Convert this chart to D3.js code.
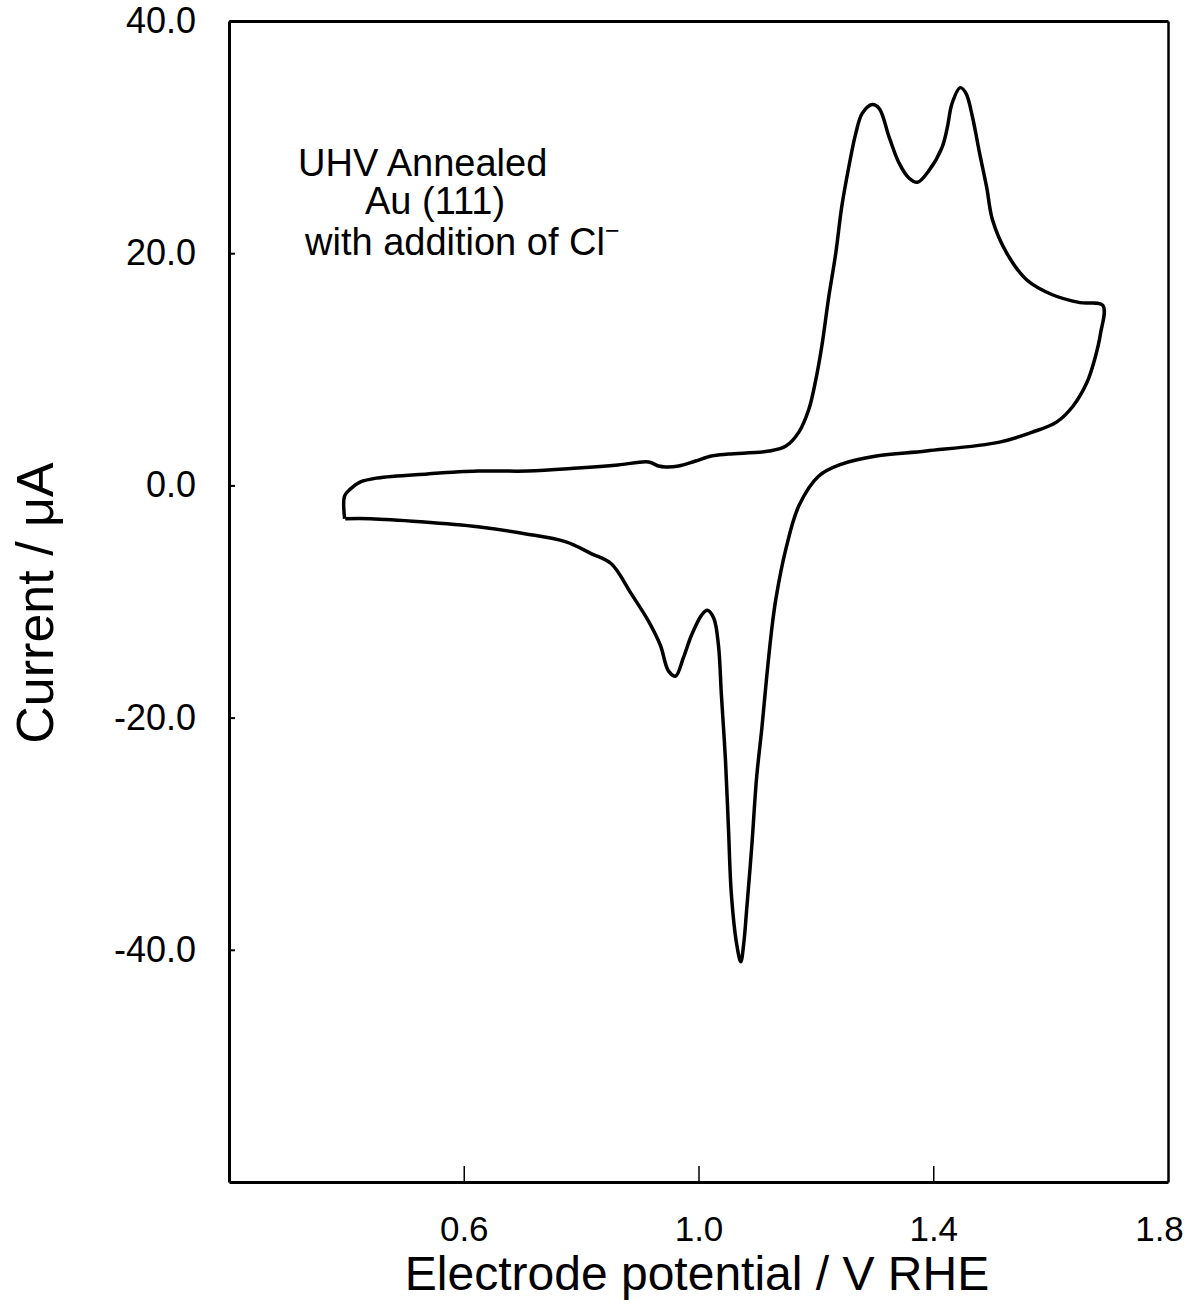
<!DOCTYPE html>
<html>
  <head>
    <meta charset="utf-8">
    <title>UHV Annealed Au(111) voltammogram</title>
    <script src="https://cdn.jsdelivr.net/npm/d3@7"></script>
    <style>
      body { margin: 0; background: #fff; }
      svg { display: block; }
      text { font-family: "Liberation Sans", Arial, sans-serif; fill: #000; }
      .axis path, .axis line { stroke: #000; }
    </style>
  </head>
  <body>
    <svg id="chart" width="1198" height="1315"></svg>
    <script>
    // one full cycle, starting at 0.4 V going anodic
    var potential = [
      0.397, 0.397, 0.407, 0.424, 0.453, 0.538, 0.624, 0.709, 0.795, 0.863,
      0.915, 0.932, 0.944, 0.966, 0.995, 1.022, 1.051, 1.120, 1.149, 1.171,
      1.188, 1.200, 1.210, 1.222, 1.234, 1.244, 1.256, 1.268, 1.279, 1.296,
      1.308, 1.325, 1.342, 1.359, 1.373, 1.393, 1.415, 1.424, 1.432, 1.446,
      1.456, 1.467, 1.479, 1.491, 1.501, 1.525, 1.559, 1.603, 1.650, 1.689,
      1.685, 1.675, 1.662, 1.638, 1.610, 1.569, 1.513, 1.388, 1.303, 1.244,
      1.205, 1.171, 1.149, 1.132, 1.125, 1.116, 1.108, 1.099, 1.091, 1.082,
      1.077, 1.072, 1.065, 1.056, 1.051, 1.046, 1.039, 1.034, 1.026, 1.015,
      1.005, 0.988, 0.974, 0.961, 0.949, 0.935, 0.915, 0.885, 0.851, 0.817,
      0.773, 0.704, 0.624, 0.527, 0.441, 0.398
    ];
    var current = [
      -2.87, -0.90, -0.30, 0.30, 0.64, 0.99, 1.24, 1.24, 1.50, 1.76,
      2.02, 1.67, 1.59, 1.67, 2.10, 2.53, 2.70, 2.96, 3.39, 4.59,
      6.56, 9.13, 11.96, 16.25, 20.03, 23.97, 27.40, 30.32, 32.04, 32.80,
      32.46, 29.97, 27.74, 26.46, 26.11, 27.14, 29.12, 30.83, 32.89, 34.26,
      33.75, 31.69, 28.60, 25.69, 22.86, 20.03, 17.71, 16.42, 15.74, 15.50,
      13.08, 10.85, 8.88, 6.82, 5.45, 4.59, 3.73, 2.96, 2.53, 1.84,
      0.81, -1.76, -5.45, -9.73, -12.31, -16.60, -20.88, -25.17, -30.92, -36.58,
      -39.50, -41.04, -39.50, -35.20, -29.46, -23.71, -18.05, -13.77, -11.45, -10.76,
      -11.19, -12.91, -14.88, -16.42, -16.00, -13.77, -11.71, -9.30, -6.73, -5.87,
      -4.85, -4.16, -3.56, -3.13, -2.87, -2.87
    ];
    var xTicks = [0.6, 1.0, 1.4, 1.8];
    var xTickLabels = ["0.6", "1.0", "1.4", "1.8"];
    var yTicks = [40, 20, 0, -20, -40];
    var yTickLabels = ["40.0", "20.0", "0.0", "-20.0", "-40.0"];
    var noteLines = ["UHV Annealed", "Au (111)", "with addition of Cl"];

    (function() {
      var svg = d3.select("#chart");
      var m = {left: 229, right: 1168, top: 21, bottom: 1182};

      var x = d3.scaleLinear().domain([0.2, 1.8]).range([m.left, m.right]);
      var y = d3.scaleLinear().domain([-60, 40]).range([m.bottom, m.top]);

      svg.append("rect").attr("width", 1198).attr("height", 1315).attr("fill", "#fff");

      // frame
      svg.append("g")
        .attr("class", "axis")
        .attr("transform", "translate(0," + m.top + ")")
        .call(d3.axisTop(x).tickValues([]).tickSizeOuter(0))
        .select(".domain").attr("stroke-width", 3);

      svg.append("g")
        .attr("class", "axis")
        .attr("transform", "translate(" + m.right + ",0)")
        .call(d3.axisRight(y).tickValues([]).tickSizeOuter(0))
        .select(".domain").attr("stroke-width", 2.5);

      var xAxis = svg.append("g")
        .attr("class", "axis")
        .attr("transform", "translate(0," + m.bottom + ")")
        .call(d3.axisBottom(x)
          .tickValues(xTicks)
          .tickSizeInner(-16)
          .tickSizeOuter(0)
          .tickPadding(59)
          .tickFormat(function(d, i) { return xTickLabels[i]; }));
      xAxis.select(".domain").attr("stroke-width", 3);
      xAxis.selectAll(".tick line")
        .attr("stroke-width", 1.5)
        .filter(function(d) { return d == 1.8; }).remove();
      xAxis.selectAll("text").attr("font-size", 35).attr("dy", 0)
        .attr("dx", function(d) { return d == 1.8 ? -9 : 0; });

      var yAxis = svg.append("g")
        .attr("class", "axis")
        .attr("transform", "translate(" + m.left + ",0)")
        .call(d3.axisLeft(y)
          .tickValues(yTicks)
          .tickSizeInner(-6)
          .tickSizeOuter(0)
          .tickPadding(33)
          .tickFormat(function(d, i) { return yTickLabels[i]; }));
      yAxis.select(".domain").attr("stroke-width", 3);
      yAxis.selectAll(".tick line").attr("stroke-width", 2);
      yAxis.selectAll("text").attr("font-size", 36);

      // voltammogram
      var line = d3.line()
        .x(function(d) { return x(d[0]); })
        .y(function(d) { return y(d[1]); })
        .curve(d3.curveCatmullRom.alpha(0.5));

      svg.append("path")
        .datum(d3.zip(potential, current))
        .attr("d", line)
        .attr("fill", "none")
        .attr("stroke", "#000")
        .attr("stroke-width", 3.5)
        .attr("stroke-linejoin", "round");

      // axis titles
      svg.append("text")
        .attr("x", 697)
        .attr("y", 1290)
        .attr("text-anchor", "middle")
        .attr("font-size", 48)
        .text("Electrode potential / V RHE");

      svg.append("text")
        .attr("transform", "translate(53,603) rotate(-90)")
        .attr("text-anchor", "middle")
        .attr("font-size", 52)
        .text("Current / \u03bcA");

      // note
      var noteX = [298, 365, 305];
      var noteY = [176, 214, 255];
      svg.selectAll(".note")
        .data(noteLines)
        .enter()
        .append("text")
        .attr("class", "note")
        .attr("x", function(d, i) { return noteX[i]; })
        .attr("y", function(d, i) { return noteY[i]; })
        .attr("font-size", 38)
        .text(function(d) { return d; });

      svg.selectAll(".note")
        .filter(function(d, i) { return i == 2; })
        .append("tspan")
        .attr("dy", -16)
        .attr("font-size", 25)
        .text("\u2212");
    })();
    </script>
  </body>
</html>
